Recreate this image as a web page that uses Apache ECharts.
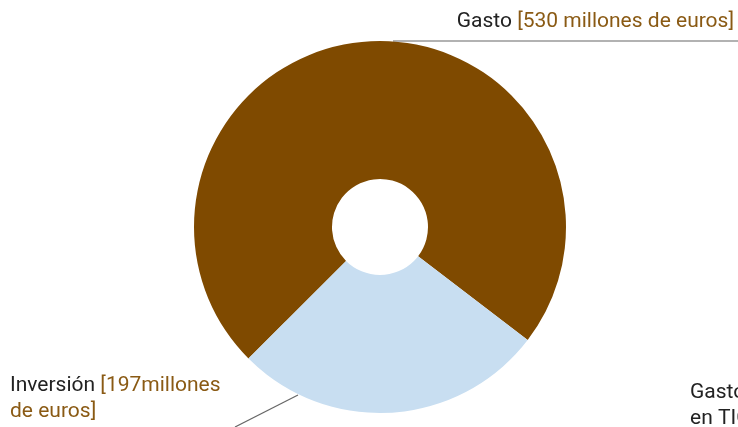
<!DOCTYPE html>
<html><head><meta charset="utf-8">
<script src="https://cdn.jsdelivr.net/npm/echarts@6/dist/echarts.min.js"></script>
<style>html,body{margin:0;padding:0;background:#fff}#c{width:738px;height:427px}</style>
</head><body><div id="c"></div>
<script>
const categories = ['Gasto', 'Inversión'];
const values = [530, 197];
const units = ['millones de euros', 'millones\nde euros'];
const sideLabel = 'Gasto\nen TIC';

const colors = ['#7f4a00', '#c8def1'];
const FS = 21;
const chart = echarts.init(document.getElementById('c'));
const labelPos = [
  {x: 734, y: 22, align: 'right', pts: [[393, 41], [393, 41], [738, 41]]},
  {x: 10, y: 399, align: 'left', pts: [[298, 395], [298, 395], [235, 427]]}
];
chart.setOption({
  animation: false,
  series: [{
    type: 'pie',
    center: [380, 227],
    radius: [48, 186],
    startAngle: 225,
    clockwise: true,
    data: categories.map((c, i) => ({
      name: c, value: values[i],
      itemStyle: {color: colors[i]},
      label: {
        formatter: i === 0 ? '{a|' + c + '} {b|[' + values[i] + ' ' + units[i] + ']}'
                           : '{a|' + c + '} {b|[' + values[i] + 'millones}\n{b|de euros]}'
      }
    })),
    label: {
      show: true,
      fontFamily: 'Roboto',
      fontSize: FS,
      lineHeight: 26,
      rich: {
        a: {color: '#222', fontSize: FS, fontFamily: 'Roboto', lineHeight: 26},
        b: {color: '#8a5a14', fontSize: FS, fontFamily: 'Roboto', lineHeight: 26}
      }
    },
    labelLine: {show: true, lineStyle: {color: '#666', width: 1.2}},
    labelLayout: function (p) {
      const l = labelPos[p.dataIndex];
      return {x: l.x, y: l.y, align: l.align, verticalAlign: 'middle', labelLinePoints: l.pts};
    }
  }],
  graphic: [{
    type: 'text', left: 690, top: 380,
    style: {text: sideLabel, fontFamily: 'Roboto', fontSize: FS, lineHeight: 26, fill: '#222'}
  }]
});
</script></body></html>
